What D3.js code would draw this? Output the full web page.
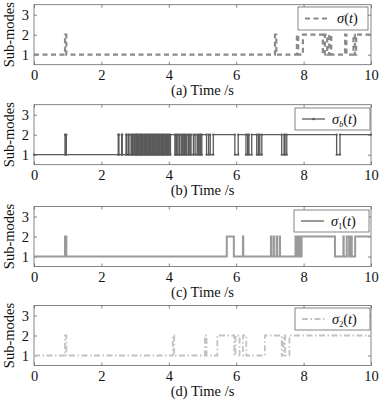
<!DOCTYPE html>
<html><head><meta charset="utf-8">
<script src="https://cdn.jsdelivr.net/npm/d3@7"></script>
<style>
html,body{margin:0;padding:0;background:#fff;}
svg text{font-family:"Liberation Serif","Times New Roman",serif;fill:#111;}
</style></head>
<body><svg id="chart" width="387" height="402"></svg>
<script>
// ---------- data ----------
const xTicks = [0, 2, 4, 6, 8, 10];
const yTicks = [1, 2, 3];
const xLabels = ["(a) Time /s", "(b) Time /s", "(c) Time /s", "(d) Time /s"];
const yLabel = "Sub-modes";
const legendNames = [["σ", ""], ["σ", "b"], ["σ", "1"], ["σ", "2"]];

// (a) sigma(t): switch times and the mode held from each time
const timesA = [0, 0.92, 0.96, 7.15, 7.19, 7.80, 7.84, 7.98, 8.57, 8.63, 8.70, 8.76, 8.82, 9.23, 9.27, 9.48, 9.52, 9.56];
const modesA = [1, 2, 1, 2, 1, 2, 1, 2, 1, 2, 1, 2, 1, 2, 1, 2, 1, 2];

// (b) sigma_b(t)
const timesB = [0, 0.92, 0.96,
  2.50, 2.52, 2.60, 2.62, 2.73, 2.75, 2.80, 2.82, 2.88, 2.91, 2.94, 2.98, 3.00, 3.04, 3.06, 3.08,
  3.11, 3.15, 3.18, 3.20, 3.23, 3.27, 3.30, 3.32, 3.35, 3.39, 3.42, 3.45, 3.48, 3.52, 3.55, 3.57,
  3.60, 3.64, 3.67, 3.70, 3.73, 3.77, 3.80, 3.82, 3.85, 3.89, 3.92, 3.95, 3.98, 4.01, 4.05,
  4.18, 4.22, 4.25, 4.30, 4.33, 4.38, 4.42, 4.46, 4.49, 4.53, 4.58, 4.62, 4.66, 4.73,
  4.78, 4.84, 4.88, 4.92, 4.94, 4.98, 5.12, 5.18, 5.23, 5.32, 5.96, 6.06, 6.29, 6.34, 6.38, 6.46,
  6.61, 6.66, 6.70, 6.76, 7.35, 7.42, 7.45, 7.50, 8.98, 9.08];
const modesB = [1, 2, 1,
  2, 1, 2, 1, 2, 1, 2, 1, 2, 1, 2, 1, 2, 1, 2, 1,
  2, 1, 2, 1, 2, 1, 2, 1, 2, 1, 2, 1, 2, 1, 2, 1,
  2, 1, 2, 1, 2, 1, 2, 1, 2, 1, 2, 1, 2, 1, 2,
  1, 2, 1, 2, 1, 2, 1, 2, 1, 2, 1, 2, 1, 2,
  1, 2, 1, 2, 1, 2, 1, 2, 1, 2, 1, 2, 1, 2, 1, 2,
  1, 2, 1, 2, 1, 2, 1, 2, 1, 2];

// (c) sigma_1(t)
const timesC = [0, 0.92, 0.96, 5.72, 5.93, 6.20, 6.21, 7.03, 7.04, 7.11, 7.12, 7.20, 7.21, 7.29, 7.30,
  7.76, 7.77, 7.82, 7.83, 7.88, 7.89, 7.94, 8.93, 9.18, 9.19, 9.28, 9.35, 9.41, 9.43, 9.53];
const modesC = [1, 2, 1, 2, 1, 2, 1, 2, 1, 2, 1, 2, 1, 2, 1,
  2, 1, 2, 1, 2, 1, 2, 1, 2, 1, 2, 1, 2, 1, 2];

// (d) sigma_2(t)
const timesD = [0, 0.92, 0.96, 4.12, 4.16, 5.07, 5.12, 5.44, 5.94, 5.98, 6.10, 6.20, 6.30, 6.85, 7.35, 7.40, 7.45, 7.58];
const modesD = [1, 2, 1, 2, 1, 2, 1, 2, 1, 2, 1, 2, 1, 2, 1, 2, 1, 2];

const series = [
  {t: timesA, m: modesA, color: "#8a8a8a", width: 2.2, dash: "5,3.5", markers: false},
  {t: timesB, m: modesB, color: "#5a5a5a", width: 1.3, dash: null, markers: true},
  {t: timesC, m: modesC, color: "#9a9a9a", width: 2, dash: null, markers: false},
  {t: timesD, m: modesD, color: "#c2c2c2", width: 1.8, dash: "6,2.5,1.5,2.5", markers: false}
];

// ---------- layout ----------
const svg = d3.select("#chart");
const left = 34, right = 371, plotH = 60;
const tops = [4.7, 104.7, 206.5, 305.5];
const legendBoxes = [[298, 7, 70, 23], [295, 108, 75, 22], [294, 210, 75, 22], [295, 308, 75, 22]];
const axisColor = "#666";
const fs = 14.5;

const x = d3.scaleLinear().domain([0, 10]).range([left, right]);

series.forEach((s, i) => {
  const top = tops[i];
  const y = d3.scaleLinear().domain([0.5, 3.5]).range([top + plotH, top]);
  const g = svg.append("g");

  g.append("rect").attr("x", left).attr("y", top).attr("width", right - left).attr("height", plotH)
    .attr("fill", "none").attr("stroke", axisColor).attr("stroke-width", 0.8);

  const ax = g.append("g").attr("transform", `translate(0,${top + plotH})`)
    .call(d3.axisBottom(x).tickValues(xTicks).tickSize(-3).tickPadding(5).tickFormat(d3.format("d")));
  const axTop = g.append("g").attr("transform", `translate(0,${top})`)
    .call(d3.axisTop(x).tickValues(xTicks).tickSize(-3).tickFormat(""));
  const ay = g.append("g").attr("transform", `translate(${left},0)`)
    .call(d3.axisLeft(y).tickValues(yTicks).tickSize(-3).tickPadding(5).tickFormat(d3.format("d")));
  const ayR = g.append("g").attr("transform", `translate(${right},0)`)
    .call(d3.axisRight(y).tickValues(yTicks).tickSize(-3).tickFormat(""));
  [ax, axTop, ay, ayR].forEach(a => {
    a.select(".domain").remove();
    a.selectAll(".tick line").attr("stroke", axisColor).attr("stroke-width", 0.8);
    a.selectAll("text").attr("font-size", fs).attr("fill", "#111")
      .style("font-family", "'Liberation Serif', serif");
  });

  const pts = s.t.map((t, k) => [t, s.m[k]]);
  pts.push([10, s.m[s.m.length - 1]]);
  const line = d3.line().x(d => x(d[0])).y(d => y(d[1])).curve(d3.curveStepAfter);
  g.append("path").attr("d", line(pts)).attr("fill", "none")
    .attr("stroke", s.color).attr("stroke-width", s.width)
    .attr("stroke-dasharray", s.dash);

  if (s.markers) {
    const vtx = [];
    s.t.forEach((t, k) => {
      if (k > 0) vtx.push([t, s.m[k - 1]]);
      vtx.push([t, s.m[k]]);
    });
    vtx.push([10, s.m[s.m.length - 1]]);
    g.selectAll("circle.mk").data(vtx).enter().append("circle")
      .attr("cx", d => x(d[0])).attr("cy", d => y(d[1])).attr("r", 1.1)
      .attr("fill", s.color);
  }

  g.append("text").attr("x", (left + right) / 2).attr("y", top + plotH + 30)
    .attr("text-anchor", "middle").attr("font-size", fs).text(xLabels[i]);

  g.append("text").attr("transform", `translate(14,${top + plotH / 2}) rotate(-90)`)
    .attr("text-anchor", "middle").attr("font-size", fs).text(yLabel);

  const [lx, ly, lw, lh] = legendBoxes[i];
  g.append("rect").attr("x", lx).attr("y", ly).attr("width", lw).attr("height", lh)
    .attr("fill", "#fff").attr("stroke", axisColor).attr("stroke-width", 0.8);
  const midY = ly + lh / 2;
  const lineX0 = lx + 7, lineX1 = lx + (i === 0 ? 32 : 30);
  g.append("line").attr("x1", lineX0).attr("x2", lineX1).attr("y1", midY).attr("y2", midY)
    .attr("stroke", s.color).attr("stroke-width", s.width).attr("stroke-dasharray", s.dash);
  if (s.markers) {
    g.append("circle").attr("cx", (lineX0 + lineX1) / 2).attr("cy", midY).attr("r", 1.3).attr("fill", s.color);
  }
  const [sym, sub] = legendNames[i];
  const txt = g.append("text").attr("x", lineX1 + 7).attr("y", midY + 4.5).attr("font-size", fs);
  txt.append("tspan").attr("font-style", "italic").text(sym);
  if (sub) txt.append("tspan").attr("font-size", 8).attr("dy", 3).attr("font-style", sub === "b" ? "italic" : "normal").text(sub);
  txt.append("tspan").attr("dy", sub ? -3 : 0).text("(");
  txt.append("tspan").attr("font-style", "italic").text("t");
  txt.append("tspan").text(")");
});
</script></body></html>
